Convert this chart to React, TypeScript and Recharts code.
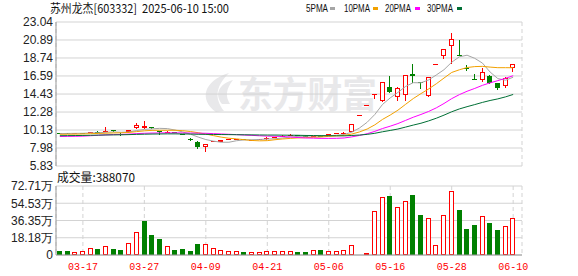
import React from "react"
import { ComposedChart, Bar, Line, XAxis, YAxis, CartesianGrid } from "recharts"

// trading days shown (03-12 .. 06-10)
const dates = [
    "03-12", "03-13", "03-14", "03-17", "03-18", "03-19", "03-20", "03-21", "03-24", "03-25",
    "03-26", "03-27", "03-28", "03-31", "04-01", "04-02", "04-03", "04-07", "04-08", "04-09",
    "04-10", "04-11", "04-14", "04-15", "04-16", "04-17", "04-18", "04-21", "04-22", "04-23",
    "04-24", "04-25", "04-28", "04-29", "04-30", "05-06", "05-07", "05-08", "05-09", "05-12",
    "05-13", "05-14", "05-15", "05-16", "05-19", "05-20", "05-21", "05-22", "05-23", "05-26",
    "05-27", "05-28", "05-29", "05-30", "06-03", "06-04", "06-05", "06-06", "06-09", "06-10",
]

const opens = [
    9.76, 9.75, 9.72, 9.8, 9.78, 9.95, 9.9, 10.1, 9.7, 9.85,
    10.34, 10.34, 10.45, 10.0, 9.85, 9.92, 9.62, 9.08, 8.75, 8.08,
    8.72, 8.75, 8.9, 8.95, 9.08, 8.92, 8.98, 9.04, 9.18, 9.3,
    9.42, 9.52, 9.46, 9.26, 9.42, 9.4, 9.65, 9.72, 9.94, 11.88,
    13.07, 14.3, 13.65, 15.25, 14.02, 14.35, 16.78, 15.82, 14.22, 18.06,
    18.97, 20.2, 19.1, 17.5, 16.28, 16.1, 16.57, 15.75, 15.35, 17.55,
]
const highs = [
    9.78, 9.77, 9.76, 9.82, 9.95, 10.0, 10.46, 10.14, 9.72, 10.15,
    10.94, 11.21, 10.5, 10.02, 9.98, 9.95, 9.65, 9.12, 8.78, 8.5,
    8.87, 8.95, 9.02, 9.06, 9.1, 8.99, 9.06, 9.24, 9.28, 9.55,
    9.62, 9.55, 9.48, 9.45, 9.44, 9.68, 9.8, 9.9, 10.8, 11.88,
    13.07, 14.38, 15.82, 16.6, 15.31, 16.72, 18.05, 15.85, 16.45, 18.06,
    19.87, 21.75, 20.85, 17.94, 16.85, 17.5, 16.7, 15.8, 16.5, 18.01,
]
const lows = [
    9.72, 9.7, 9.7, 9.74, 9.76, 9.82, 9.88, 9.94, 9.45, 9.8,
    10.26, 10.3, 10.3, 9.5, 9.82, 9.78, 9.48, 8.85, 7.88, 7.48,
    8.68, 8.72, 8.88, 8.92, 8.92, 8.9, 8.96, 8.95, 9.15, 9.28,
    9.4, 9.42, 9.28, 9.24, 9.35, 9.38, 9.6, 9.7, 9.9, 11.88,
    13.07, 13.86, 13.45, 14.58, 13.55, 13.63, 15.7, 14.98, 14.12, 18.06,
    18.6, 17.98, 18.95, 17.2, 16.05, 15.85, 15.65, 14.95, 15.12, 17.08,
]
const closes = [
    9.74, 9.72, 9.75, 9.76, 9.92, 9.85, 10.0, 9.96, 9.55, 10.12,
    10.73, 10.62, 10.35, 9.85, 9.95, 9.82, 9.52, 9.0, 8.15, 8.47,
    8.85, 8.88, 9.0, 9.05, 8.95, 8.97, 9.04, 9.22, 9.25, 9.42,
    9.5, 9.45, 9.32, 9.43, 9.38, 9.65, 9.72, 9.82, 10.8, 11.88,
    13.07, 14.38, 15.82, 14.7, 15.11, 16.69, 16.62, 15.75, 16.42, 18.06,
    19.87, 21.06, 19.0, 17.38, 16.2, 17.01, 15.7, 15.11, 16.37, 18.01,
]
const prevCloseBeforeFirst = 9.8

// volume in 万股
const volumes = [
    4.5, 4.5, 3.2, 4.2, 7.4, 6.6, 9.5, 6.6, 5.6, 12.6,
    24.2, 36.1, 21.4, 17.2, 9.5, 5.6, 6.6, 4.5, 11.9, 11.6,
    7.4, 4.9, 4.2, 4.2, 3.5, 3.2, 3.2, 4.2, 4.5, 4.5,
    4.5, 3.5, 3.5, 5.3, 5.6, 4.2, 4.2, 5.3, 10.5, 1.0,
    2.4, 46.4, 61.1, 61.8, 50.6, 56.9, 63.5, 42.5, 39.0, 10.5,
    42.1, 67.4, 47.7, 27.7, 31.9, 41.1, 34.0, 26.7, 30.6, 38.807,
]
const lastVolume = 388070

const ma5 = [
    9.7, 9.72, 9.73, 9.74, 9.78, 9.8, 9.86, 9.9, 9.86, 9.9,
    10.07, 10.2, 10.27, 10.33, 10.3, 10.12, 9.9, 9.63, 9.29, 8.99,
    8.8, 8.67, 8.67, 8.85, 8.95, 8.97, 9.0, 9.05, 9.09, 9.18,
    9.29, 9.37, 9.39, 9.42, 9.42, 9.45, 9.5, 9.6, 9.87, 10.37,
    11.06, 11.99, 13.19, 13.97, 14.62, 15.34, 15.79, 15.77, 16.12, 16.71,
    17.34, 18.23, 18.88, 19.07, 18.7, 18.13, 17.06, 16.28, 16.08, 16.44,
]
const ma10 = [
    9.62, 9.63, 9.64, 9.66, 9.69, 9.72, 9.75, 9.78, 9.8, 9.84,
    9.94, 10.03, 10.09, 10.1, 10.1, 10.1, 10.05, 9.95, 9.81, 9.65,
    9.46, 9.28, 9.15, 9.07, 8.97, 8.88, 8.84, 8.86, 8.97, 9.06,
    9.13, 9.19, 9.22, 9.26, 9.3, 9.37, 9.43, 9.49, 9.65, 9.9,
    10.25, 10.75, 11.4, 11.92, 12.5, 13.2, 13.89, 14.48, 15.04, 15.66,
    16.34, 17.01, 17.33, 17.6, 17.71, 17.74, 17.65, 17.58, 17.58, 17.57,
]
const ma20 = [
    9.36, 9.37, 9.38, 9.4, 9.45, 9.5, 9.55, 9.58, 9.6, 9.64,
    9.7, 9.74, 9.77, 9.78, 9.79, 9.79, 9.78, 9.77, 9.75, 9.74,
    9.7, 9.66, 9.62, 9.58, 9.53, 9.49, 9.44, 9.4, 9.39, 9.35,
    9.29, 9.23, 9.18, 9.16, 9.13, 9.13, 9.14, 9.18, 9.31, 9.48,
    9.69, 9.97, 10.31, 10.59, 10.9, 11.28, 11.66, 11.99, 12.35, 12.78,
    13.3, 13.88, 14.36, 14.76, 15.1, 15.47, 15.77, 16.03, 16.31, 16.62,
]
const ma30 = [
    9.45, 9.46, 9.47, 9.48, 9.5, 9.52, 9.54, 9.55, 9.56, 9.58,
    9.61, 9.63, 9.65, 9.66, 9.67, 9.67, 9.66, 9.65, 9.62, 9.61,
    9.6, 9.59, 9.58, 9.57, 9.56, 9.55, 9.54, 9.53, 9.53, 9.52,
    9.51, 9.5, 9.48, 9.47, 9.46, 9.45, 9.44, 9.43, 9.48, 9.53,
    9.61, 9.74, 9.92, 10.08, 10.25, 10.48, 10.72, 10.94, 11.22, 11.54,
    11.91, 12.31, 12.65, 12.92, 13.17, 13.43, 13.66, 13.85, 14.09, 14.38,
]

const priceTicks = [5.83, 7.98, 10.13, 12.28, 14.43, 16.59, 18.74, 20.89, 23.04]
const volumeTicks = [0, 18.18, 36.35, 54.53, 72.71]
const labelDates = ["03-17", "03-27", "04-09", "04-21", "05-06", "05-16", "05-28", "06-10"]

const RED = "#ff0000"
const GREEN = "#008000"
const FRAME = "#999999"
const GRID = "#d3d3d3"
const MA_COLORS = { ma5: "#a6a6a6", ma10: "#f2a100", ma20: "#ff00ff", ma30: "#006f35" }

const rows = dates.map((date, i) => ({
    date,
    open: opens[i],
    high: highs[i],
    low: lows[i],
    close: closes[i],
    range: [lows[i], highs[i]],
    vol: volumes[i],
    volUp: closes[i] >= (i === 0 ? prevCloseBeforeFirst : closes[i - 1]),
    ma5: ma5[i],
    ma10: ma10[i],
    ma20: ma20[i],
    ma30: ma30[i],
}))

function Candle(props: any) {
    const { x, y, width, height, payload } = props
    const { open, close, high, low } = payload
    const cx = Math.floor(x + width / 2)
    const top = Math.min(y, y + height)
    const span = Math.abs(height)
    const yOf = (v: number) => (high > low ? top + ((high - v) / (high - low)) * span : top)
    const color = close >= open ? RED : GREEN
    const yHigh = Math.round(yOf(high))
    const yLow = Math.round(yOf(low))
    const bTop = Math.round(yOf(Math.max(open, close)))
    const bBot = Math.round(yOf(Math.min(open, close)))
    const wx = cx + 0.5
    if (bBot - bTop < 2) {
        return (
            <g>
                <line x1={wx} x2={wx} y1={yHigh} y2={yLow} stroke={color} />
                <line x1={cx - 2} x2={cx + 3} y1={bTop + 0.5} y2={bTop + 0.5} stroke={color} />
            </g>
        )
    }
    if (close >= open) {
        return (
            <g>
                <line x1={wx} x2={wx} y1={yHigh} y2={bTop} stroke={color} />
                <line x1={wx} x2={wx} y1={bBot} y2={yLow} stroke={color} />
                <rect x={cx - 1.5} y={bTop + 0.5} width={4} height={bBot - bTop - 1} fill="#fff" stroke={color} />
            </g>
        )
    }
    return (
        <g>
            <line x1={wx} x2={wx} y1={yHigh} y2={yLow} stroke={color} />
            <rect x={cx - 2} y={bTop} width={5} height={bBot - bTop} fill={color} />
        </g>
    )
}

function VolumeBar(props: any) {
    const { x, y, width, height, payload } = props
    const cx = Math.floor(x + width / 2)
    const top = Math.round(y)
    const bottom = Math.round(y + height)
    if (payload.volUp) {
        return (
            <rect x={cx - 1.5} y={top + 0.5} width={4} height={Math.max(bottom - top - 1, 0)} fill="#fff" stroke={RED} />
        )
    }
    return <rect x={cx - 2} y={top} width={5} height={bottom - top} fill={GREEN} />
}

const DateTick = (p: any) => (
    <text
        x={p.x}
        y={p.y + 15}
        textAnchor="middle"
        fill={RED}
        fontSize={11}
        fontFamily="'Liberation Mono', monospace"
        textLength={30}
        lengthAdjust="spacingAndGlyphs"
    >
        {p.payload.value}
    </text>
)

const tickStyle = { fontSize: 12, fill: "#222", fontFamily: "'Liberation Sans', Arial, sans-serif" }

const legend = [
    { label: "5PMA", key: "ma5", x: 306, w: 22, sx: 330 },
    { label: "10PMA", key: "ma10", x: 344, w: 26, sx: 373 },
    { label: "20PMA", key: "ma20", x: 385, w: 26, sx: 415 },
    { label: "30PMA", key: "ma30", x: 427, w: 26, sx: 457 },
]

function Overlay() {
    return (
        <svg width={578} height={276} style={{ position: "absolute", left: 0, top: 0 }}>
            <g fill="#e8e8ea">
                <path d="M 216 112 C 199 100 203 81 229 73 C 217 85 213 97 224 111 Z" />
                <path d="M 222 104 C 214 94 219 84 233 80 C 226 89 225 96 230 104 Z" />
            </g>
            <text x={238} y={108} fontSize={36} fontWeight="bold" fill="#e8e8ea" fontFamily="'Noto Sans CJK SC'" textLength={139} lengthAdjust="spacingAndGlyphs">
                东方财富
            </text>
            <g fontFamily="'Noto Sans CJK SC', sans-serif" fontSize={12} fill="#111">
                <text x={50} y={12.5} textLength={87} lengthAdjust="spacingAndGlyphs">苏州龙杰[603332]</text>
                <text x={142} y={12.5} textLength={87} lengthAdjust="spacingAndGlyphs">2025-06-10 15:00</text>
                <text x={57} y={181.5} textLength={78} lengthAdjust="spacingAndGlyphs">成交量:{lastVolume}</text>
            </g>
            {legend.map((l) => (
                <g key={l.key}>
                    <text x={l.x} y={12} fontSize={10.5} fill="#111" fontFamily="'Liberation Sans', sans-serif" textLength={l.w} lengthAdjust="spacingAndGlyphs">
                        {l.label}
                    </text>
                    <rect x={l.sx} y={7} width={5} height={3} fill={(MA_COLORS as any)[l.key]} />
                </g>
            ))}
        </svg>
    )
}

export default function App() {
    return (
        <div style={{ position: "absolute", left: 0, top: 0, width: 578, height: 276, background: "#fff", overflow: "hidden" }}>
            <Overlay />
            <div style={{ position: "absolute", left: 0, top: 0 }}>
                <ComposedChart width={578} height={180} data={rows} margin={{ top: 22, right: 56, bottom: 14, left: 0 }}>
                    <CartesianGrid horizontal={true} vertical={false} stroke={GRID} />
                    <CartesianGrid horizontal={false} vertical={true} stroke={GRID} strokeDasharray="4 3" />
                    <XAxis
                        dataKey="date"
                        ticks={labelDates}
                        interval={0}
                        padding={{ left: 0, right: 5 }}
                        tick={false}
                        tickLine={false}
                        height={0}
                        axisLine={{ stroke: FRAME }}
                    />
                    <XAxis xAxisId="top" orientation="top" dataKey="date" tick={false} tickLine={false} height={0} axisLine={{ stroke: FRAME }} />
                    <YAxis
                        type="number"
                        domain={[5.83, 23.04]}
                        ticks={priceTicks}
                        interval={0}
                        allowDataOverflow
                        width={56}
                        tickSize={0}
                        tickMargin={3}
                        tickLine={false}
                        axisLine={{ stroke: FRAME }}
                        tick={tickStyle}
                        tickFormatter={(v) => v.toFixed(2)}
                    />
                    <YAxis yAxisId="right" orientation="right" width={0} tick={false} tickLine={false} axisLine={{ stroke: FRAME }} />
                    <Bar dataKey="range" barSize={7} shape={Candle} isAnimationActive={false} />
                    <Line dataKey="ma5" stroke={MA_COLORS.ma5} strokeWidth={1} dot={false} isAnimationActive={false} />
                    <Line dataKey="ma10" stroke={MA_COLORS.ma10} strokeWidth={1} dot={false} isAnimationActive={false} />
                    <Line dataKey="ma20" stroke={MA_COLORS.ma20} strokeWidth={1} dot={false} isAnimationActive={false} />
                    <Line dataKey="ma30" stroke={MA_COLORS.ma30} strokeWidth={1} dot={false} isAnimationActive={false} />
                </ComposedChart>
            </div>
            <div style={{ position: "absolute", left: 0, top: 0 }}>
                <ComposedChart width={578} height={276} data={rows} margin={{ top: 186, right: 56, bottom: 1, left: 0 }}>
                    <CartesianGrid horizontal={true} vertical={false} stroke={GRID} />
                    <CartesianGrid horizontal={false} vertical={true} stroke={GRID} strokeDasharray="4 3" />
                    <XAxis
                        dataKey="date"
                        ticks={labelDates}
                        interval={0}
                        padding={{ left: 0, right: 5 }}
                        tick={DateTick}
                        tickSize={0}
                        tickMargin={0}
                        tickLine={false}
                        height={20}
                        axisLine={{ stroke: FRAME }}
                    />
                    <XAxis xAxisId="top" orientation="top" dataKey="date" tick={false} tickLine={false} height={0} axisLine={{ stroke: FRAME }} />
                    <YAxis
                        type="number"
                        domain={[0, 72.71]}
                        ticks={volumeTicks}
                        interval={0}
                        allowDataOverflow
                        width={56}
                        tickSize={0}
                        tickMargin={3}
                        tickLine={false}
                        axisLine={{ stroke: FRAME }}
                        tick={tickStyle}
                        tickFormatter={(v) => (v === 0 ? "0" : `${v.toFixed(2)}万`)}
                    />
                    <YAxis yAxisId="right" orientation="right" width={0} tick={false} tickLine={false} axisLine={{ stroke: FRAME }} />
                    <Bar dataKey="vol" barSize={7} shape={VolumeBar} isAnimationActive={false} />
                </ComposedChart>
            </div>
        </div>
    )
}
